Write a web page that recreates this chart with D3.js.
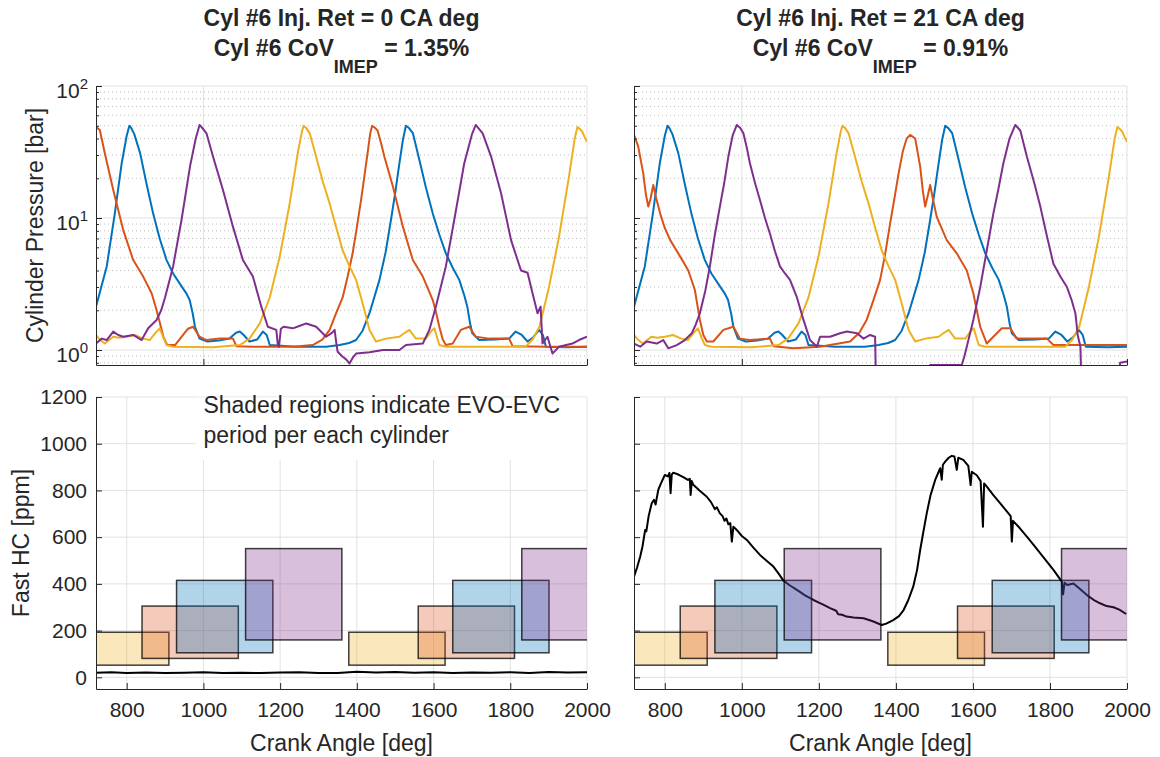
<!DOCTYPE html>
<html>
<head>
<meta charset="utf-8">
<script src="https://cdn.jsdelivr.net/npm/d3@7"></script>
<style>
body { margin: 0; background: #fff; }
svg text { font-family: "Liberation Sans", Arial, Helvetica, sans-serif; fill: #262626; }
</style>
</head>
<body>
<div id="graph"></div>
<script>
// ---- data ----
var crankDomain = [720, 2000];
var xTicksTop = [1000, 2000];
var xTicksBottom = [800, 1000, 1200, 1400, 1600, 1800, 2000];
var hcTicks = [0, 200, 400, 600, 800, 1000, 1200];
var pMajor = [1, 10, 100];
var pDomain = [0.77, 100];
var hcDomain = [-50, 1200];

var titles0 = ["Cyl #6 Inj. Ret = 0 CA deg", "1.35%"];
var titles21 = ["Cyl #6 Inj. Ret = 21 CA deg", "0.91%"];

// shaded EVO-EVC regions, order: yellow, red, blue, purple
var cylColors = ["#EDB120", "#D95319", "#0072BD", "#7E2F8E"];
var evoStart = [659, 840, 930, 1110];
var evcEnd = [910, 1091, 1181, 1361];
var rectLow = [52, 81, 105, 160];
var rectHigh = [193, 305, 415, 551];
var cycleShift = [0, 720];

// cylinder pressure [crank deg, bar]
var pBlue = [[720,2.13],[748,4.3],[769,10.8],[787,26],[800,42],[807,50],[812,48],[820,43],[835,31],[852,18],[869,10.8],[886,7],[904,4.8],[921,3.8],[938,3.2],[955,2.7],[964,2.4],[972,1.9],[978,1.5],[990,1.22],[1010,1.16],[1040,1.18],[1068,1.22],[1085,1.35],[1095,1.38],[1105,1.3],[1120,1.16],[1140,1.2],[1155,1.38],[1165,1.3],[1173,1.09],[1242,1.06],[1320,1.06],[1355,1.09],[1380,1.13],[1398,1.19],[1415,1.4],[1433,1.9],[1459,3.4],[1475,5.5],[1489,9.7],[1500,15.5],[1511,26],[1520,39],[1528,50],[1536,48],[1546,44],[1563,27.5],[1580,17],[1598,10.8],[1615,7.5],[1632,5.4],[1650,4.2],[1667,3.4],[1680,2.6],[1688,2.13],[1695,1.6],[1701,1.34],[1719,1.19],[1760,1.2],[1797,1.22],[1814,1.38],[1830,1.3],[1845,1.16],[1860,1.25],[1875,1.42],[1885,1.3],[1893,1.06],[1950,1.05],[2000,1.06]];
var pYellow = [[720,1.3],[730,1.2],[743,1.12],[765,1.26],[780,1.24],[800,1.26],[821,1.3],[843,1.22],[860,1.19],[875,1.35],[886,1.46],[895,1.25],[904,1.09],[921,1.06],[1025,1.05],[1095,1.09],[1120,1.22],[1147,1.59],[1173,2.5],[1199,5.1],[1225,12.9],[1246,31],[1256,44],[1261,50],[1268,48],[1277,44],[1294,29],[1311,19],[1329,12.9],[1346,8.5],[1363,5.7],[1381,4.3],[1398,3.4],[1415,2.26],[1433,1.42],[1450,1.16],[1476,1.22],[1511,1.26],[1525,1.35],[1537,1.42],[1554,1.22],[1580,1.22],[1595,1.4],[1602,1.46],[1615,1.09],[1632,1.06],[1840,1.06],[1858,1.2],[1876,1.5],[1901,3.0],[1927,7.2],[1953,20.6],[1968,40],[1975,49],[1982,47],[1988,45],[1994,41],[2000,37.8]];
var pRed0 = [[720,49],[730,46.4],[743,30.9],[765,16.3],[791,8.1],[817,4.8],[843,3.6],[865,2.69],[876,2.1],[887,1.59],[896,1.25],[906,1.09],[926,1.09],[947,1.3],[960,1.45],[973,1.5],[990,1.26],[1008,1.19],[1042,1.22],[1077,1.22],[1086,1.07],[1129,1.06],[1233,1.06],[1285,1.09],[1310,1.2],[1329,1.42],[1346,1.9],[1363,2.5],[1376,3.6],[1389,5.4],[1400,8.5],[1411,13.7],[1420,21],[1428,31],[1435,44],[1440,50],[1448,48],[1454,46],[1463,37],[1472,29],[1494,17.3],[1520,8.6],[1546,4.8],[1572,3.6],[1598,2.39],[1607,1.9],[1615,1.5],[1624,1.2],[1632,1.09],[1650,1.12],[1671,1.42],[1693,1.5],[1710,1.26],[1745,1.22],[1797,1.22],[1806,1.07],[1900,1.06],[2000,1.06]];
var pPurple0 = [[720,1.12],[735,1.22],[748,1.19],[765,1.38],[778,1.3],[791,1.26],[817,1.3],[839,1.19],[856,1.46],[878,1.69],[890,2.0],[900,2.5],[921,4.3],[943,9.7],[965,24.5],[980,40],[990,50.7],[1000,47],[1008,43.8],[1025,29.2],[1051,16.3],[1077,8.6],[1103,4.8],[1129,3.6],[1151,2.13],[1168,1.5],[1190,1.42],[1194,1.1],[1197,1.06],[1202,1.45],[1209,1.5],[1233,1.46],[1250,1.52],[1268,1.59],[1294,1.5],[1320,1.26],[1335,1.35],[1342,1.42],[1347,1.1],[1350,0.97],[1363,0.89],[1372,0.85],[1381,0.79],[1390,0.88],[1398,0.94],[1433,0.96],[1468,1.0],[1511,1.0],[1528,1.09],[1572,1.12],[1589,1.42],[1606,2.13],[1632,4.3],[1654,9.7],[1680,26],[1700,43],[1710,50.7],[1728,43.8],[1750,29.2],[1776,15.4],[1802,6.8],[1828,4.0],[1845,3.85],[1858,2.69],[1871,1.9],[1879,2.13],[1884,1.12],[1897,1.26],[1910,0.94],[1927,1.06],[1962,1.12],[1979,1.19],[2000,1.26]];
var pRed21 = [[720,42.6],[731,34.7],[744,21.8],[751,15],[757,12.2],[763,14],[770,17.8],[778,14],[788,10.8],[800,8.4],[814,6.8],[840,5.1],[861,4.0],[878,2.85],[891,1.69],[900,1.3],[909,1.16],[926,1.16],[952,1.42],[978,1.5],[995,1.22],[1021,1.19],[1073,1.22],[1082,1.07],[1134,1.03],[1203,1.06],[1281,1.16],[1305,1.35],[1324,1.69],[1342,2.4],[1359,3.4],[1372,5.3],[1385,9.1],[1396,14],[1407,21.8],[1418,32],[1428,40],[1437,42.6],[1450,40],[1456,32],[1463,24.5],[1470,16],[1476,12.2],[1482,14.5],[1489,17.8],[1497,13.5],[1506,10.2],[1532,6.8],[1558,5.4],[1584,4.0],[1601,2.69],[1610,2.0],[1619,1.5],[1636,1.12],[1653,1.26],[1675,1.46],[1697,1.46],[1714,1.22],[1792,1.22],[1809,1.09],[2000,1.09]];
var pPurple21 = [[720,1.12],[736,1.06],[753,1.16],[779,1.12],[796,1.19],[809,1.03],[831,1.09],[852,1.19],[870,1.34],[880,1.55],[891,1.9],[905,2.8],[917,4.3],[930,7.5],[943,12.2],[955,19],[965,29.2],[976,42],[987,50.7],[996,48],[1004,43.8],[1013,34],[1021,26],[1034,18.5],[1047,13.7],[1060,10],[1073,7.6],[1086,5.6],[1099,4.3],[1112,3.8],[1125,3.4],[1143,2.5],[1160,1.69],[1177,1.19],[1195,1.06],[1203,1.26],[1229,1.26],[1255,1.34],[1273,1.38],[1299,1.34],[1316,1.22],[1333,1.3],[1346,1.26],[1350,0.3],[1480,0.3],[1489,0.77],[1571,0.77],[1578,0.9],[1584,1.06],[1601,1.69],[1619,3.0],[1636,5.7],[1653,10.8],[1666,16.5],[1679,26],[1695,40],[1710,50.7],[1723,46],[1740,29.2],[1758,19],[1775,12.2],[1792,7.3],[1809,4.5],[1827,3.6],[1844,3.0],[1856,2.4],[1866,1.9],[1872,1.3],[1879,1.06],[1884,0.3],[1975,0.3],[1982,0.8],[2000,0.82]];

// fast HC [crank deg, ppm]
var hcLeft = [[720,20],[760,22],[800,19],[850,21],[900,18],[950,20],[1000,22],[1050,19],[1100,20],[1150,18],[1200,21],[1250,22],[1300,19],[1350,18],[1380,22],[1400,24],[1450,21],[1500,23],[1550,20],[1600,22],[1650,19],[1700,21],[1750,20],[1800,22],[1850,19],[1900,23],[1950,21],[2000,22]];
var hcRight = [[720,431],[728,470],[736,516],[742,560],[749,631],[752,625],[758,690],[766,745],[772,760],[776,740],[783,802],[790,830],[800,866],[808,860],[812,875],[815,788],[818,868],[822,876],[835,868],[848,857],[860,845],[865,850],[867,781],[870,840],[874,824],[890,800],[909,773],[920,750],[925,735],[930,720],[935,728],[943,702],[950,690],[955,670],[960,680],[965,655],[970,660],[974,581],[978,645],[990,625],[1000,605],[1013,588],[1030,555],[1047,524],[1065,498],[1082,474],[1095,445],[1108,414],[1125,393],[1143,374],[1165,350],[1186,331],[1200,320],[1210,312],[1229,296],[1245,285],[1250,270],[1260,268],[1272,260],[1290,256],[1316,253],[1340,240],[1363,224],[1375,230],[1393,245],[1408,262],[1420,288],[1432,330],[1445,388],[1455,460],[1463,545],[1471,620],[1480,702],[1490,780],[1502,845],[1515,895],[1519,846],[1522,910],[1528,923],[1537,940],[1545,948],[1552,945],[1558,888],[1562,940],[1575,931],[1588,905],[1594,823],[1597,880],[1610,865],[1620,840],[1626,645],[1629,830],[1636,816],[1653,780],[1671,745],[1688,710],[1698,690],[1701,581],[1704,670],[1722,638],[1740,602],[1758,566],[1775,531],[1792,495],[1809,460],[1822,430],[1831,409],[1834,355],[1838,405],[1845,395],[1861,402],[1878,378],[1896,352],[1913,332],[1930,317],[1947,305],[1965,300],[1980,290],[1998,271]];

var svg = d3.select("#graph").append("svg")
	.attr("width", 1160)
	.attr("height", 757);

var gridCol = "#e1e1e1", axisCol = "#262626";
var clipCount = 0;

function makeClip(x, y) {
	var id = "clip" + (clipCount++);
	svg.append("clipPath").attr("id", id).append("rect")
		.attr("x", x.range()[0]).attr("y", y.range()[1])
		.attr("width", x.range()[1] - x.range()[0])
		.attr("height", y.range()[0] - y.range()[1]);
	return "url(#" + id + ")";
}

// ---------- top panels: pressure, log scale ----------
function pressurePanel(left, right, showLabels, series, title) {
	var x = d3.scaleLinear().domain(crankDomain).range([left, right]);
	var y = d3.scaleLog().domain(pDomain).range([365, 86]);
	var g = svg.append("g");

	// minor dotted grid
	var minor = y.ticks().filter(function(d) { return pMajor.indexOf(d) < 0; });
	g.selectAll("line.minor").data(minor).enter().append("line")
		.attr("x1", left).attr("x2", right)
		.attr("y1", function(d) { return y(d); }).attr("y2", function(d) { return y(d); })
		.attr("stroke", "#bdbdbd").attr("stroke-dasharray", "1 3");
	g.selectAll("line.hmaj").data(pMajor).enter().append("line")
		.attr("x1", left).attr("x2", right)
		.attr("y1", function(d) { return y(d); }).attr("y2", function(d) { return y(d); })
		.attr("stroke", gridCol);
	g.selectAll("line.vmaj").data(xTicksTop).enter().append("line")
		.attr("y1", 86).attr("y2", 365)
		.attr("x1", function(d) { return x(d); }).attr("x2", function(d) { return x(d); })
		.attr("stroke", gridCol);

	var clip = makeClip(x, y);
	var line = d3.line()
		.x(function(d) { return x(d[0]); })
		.y(function(d) { return y(d[1]); });
	g.append("g").attr("clip-path", clip).selectAll("path")
		.data(series).enter().append("path")
		.attr("d", function(d) { return line(d.pts); })
		.attr("fill", "none")
		.attr("stroke", function(d) { return d.color; })
		.attr("stroke-width", 2)
		.attr("stroke-linejoin", "round");

	// axes
	g.append("g").attr("transform", "translate(" + left + ",0)")
		.call(d3.axisLeft(y).tickValues(pMajor).tickSizeInner(-6).tickSizeOuter(0).tickFormat(""));
	var axm = g.append("g").attr("transform", "translate(" + left + ",0)")
		.call(d3.axisLeft(y).tickValues(minor).tickSizeInner(-3).tickSizeOuter(0).tickFormat(""));
	axm.select(".domain").remove();
	g.append("g").attr("transform", "translate(0,365)")
		.call(d3.axisBottom(x).tickValues(xTicksTop).tickSizeInner(-6).tickSizeOuter(0).tickFormat(""));
	g.selectAll(".domain, .tick line").attr("stroke", axisCol);

	if (showLabels) {
		pMajor.forEach(function(v) {
			var t = g.append("text").attr("x", left - 8).attr("y", y(v) + 12)
				.attr("text-anchor", "end").style("font-size", "21px");
			t.append("tspan").text("10");
			t.append("tspan").attr("dy", -9).style("font-size", "15px")
				.text(Math.round(Math.log10(v)));
		});
		svg.append("text")
			.attr("transform", "translate(43,225.5) rotate(-90)")
			.attr("text-anchor", "middle").style("font-size", "23px")
			.text("Cylinder Pressure [bar]");
	}

	// title
	var cx = (left + right) / 2;
	svg.append("text").attr("x", cx).attr("y", 26)
		.attr("text-anchor", "middle").style("font-size", "23px").style("font-weight", "bold")
		.text(title[0]);
	var t2 = svg.append("text").attr("x", cx).attr("y", 56)
		.attr("text-anchor", "middle").style("font-size", "23px").style("font-weight", "bold");
	t2.append("tspan").text("Cyl #6 CoV");
	t2.append("tspan").attr("dy", 17).style("font-size", "18px").text("IMEP");
	t2.append("tspan").attr("dy", -17).text(" = " + title[1]);
}

// ---------- bottom panels: fast HC ----------
function hcPanel(left, right, showLabels, hc) {
	var x = d3.scaleLinear().domain(crankDomain).range([left, right]);
	var y = d3.scaleLinear().domain(hcDomain).range([689, 397]);
	var g = svg.append("g");

	g.selectAll("line.h").data(hcTicks).enter().append("line")
		.attr("x1", left).attr("x2", right)
		.attr("y1", function(d) { return y(d); }).attr("y2", function(d) { return y(d); })
		.attr("stroke", gridCol);
	g.selectAll("line.v").data(xTicksBottom).enter().append("line")
		.attr("y1", 397).attr("y2", 689)
		.attr("x1", function(d) { return x(d); }).attr("x2", function(d) { return x(d); })
		.attr("stroke", gridCol);

	var clip = makeClip(x, y);
	var inner = g.append("g").attr("clip-path", clip);
	var line = d3.line()
		.x(function(d) { return x(d[0]); })
		.y(function(d) { return y(d[1]); });
	inner.append("path").attr("d", line(hc))
		.attr("fill", "none").attr("stroke", "#000").attr("stroke-width", 2)
		.attr("stroke-linejoin", "round");

	var boxes = [];
	cycleShift.forEach(function(c) {
		evoStart.forEach(function(s, i) {
			boxes.push({x0: s + c, x1: evcEnd[i] + c, y0: rectLow[i], y1: rectHigh[i], color: cylColors[i]});
		});
	});
	inner.selectAll("rect.evo").data(boxes).enter().append("rect")
		.attr("x", function(d) { return x(d.x0); })
		.attr("y", function(d) { return y(d.y1); })
		.attr("width", function(d) { return x(d.x1) - x(d.x0); })
		.attr("height", function(d) { return y(d.y0) - y(d.y1); })
		.attr("fill", function(d) { return d.color; })
		.attr("fill-opacity", 0.3)
		.attr("stroke", "#000").attr("stroke-opacity", 0.75).attr("stroke-width", 1.5);

	g.append("g").attr("transform", "translate(" + left + ",0)")
		.call(d3.axisLeft(y).tickValues(hcTicks).tickSizeInner(-6).tickSizeOuter(0).tickPadding(9)
			.tickFormat(showLabels ? d3.format("d") : ""));
	g.append("g").attr("transform", "translate(0,689)")
		.call(d3.axisBottom(x).tickValues(xTicksBottom).tickSizeInner(-6).tickSizeOuter(0).tickPadding(13.5)
			.tickFormat(d3.format("d")));
	g.selectAll(".domain, .tick line").attr("stroke", axisCol);
	g.selectAll(".tick text").style("font-size", "21px").attr("fill", axisCol)
		.style("font-family", "'Liberation Sans', Arial, sans-serif");

	svg.append("text").attr("x", (left + right) / 2).attr("y", 751)
		.attr("text-anchor", "middle").style("font-size", "23px")
		.text("Crank Angle [deg]");

	if (showLabels) {
		svg.append("text")
			.attr("transform", "translate(29,543) rotate(-90)")
			.attr("text-anchor", "middle").style("font-size", "23px")
			.text("Fast HC [ppm]");

		// annotation with white background
		var note = g.append("g");
		var bg = note.append("rect").attr("fill", "#fff");
		var nt = note.append("text").style("font-size", "23px");
		nt.append("tspan").attr("x", x(1000)).attr("y", 413).text("Shaded regions indicate EVO-EVC");
		nt.append("tspan").attr("x", x(1000)).attr("y", 443).text("period per each cylinder");
		var bb = nt.node().getBBox();
		bg.attr("x", bb.x - 8).attr("y", 397.5)
			.attr("width", right - 1 - (bb.x - 8))
			.attr("height", 460 - 397.5);
	}
}

pressurePanel(96, 587, true, [
	{color: "#0072BD", pts: pBlue},
	{color: "#D95319", pts: pRed0},
	{color: "#EDB120", pts: pYellow},
	{color: "#7E2F8E", pts: pPurple0}
], titles0);
pressurePanel(634, 1127, false, [
	{color: "#0072BD", pts: pBlue},
	{color: "#D95319", pts: pRed21},
	{color: "#EDB120", pts: pYellow},
	{color: "#7E2F8E", pts: pPurple21}
], titles21);

hcPanel(96, 587, true, hcLeft);
hcPanel(634, 1127, false, hcRight);
</script>
</body>
</html>
